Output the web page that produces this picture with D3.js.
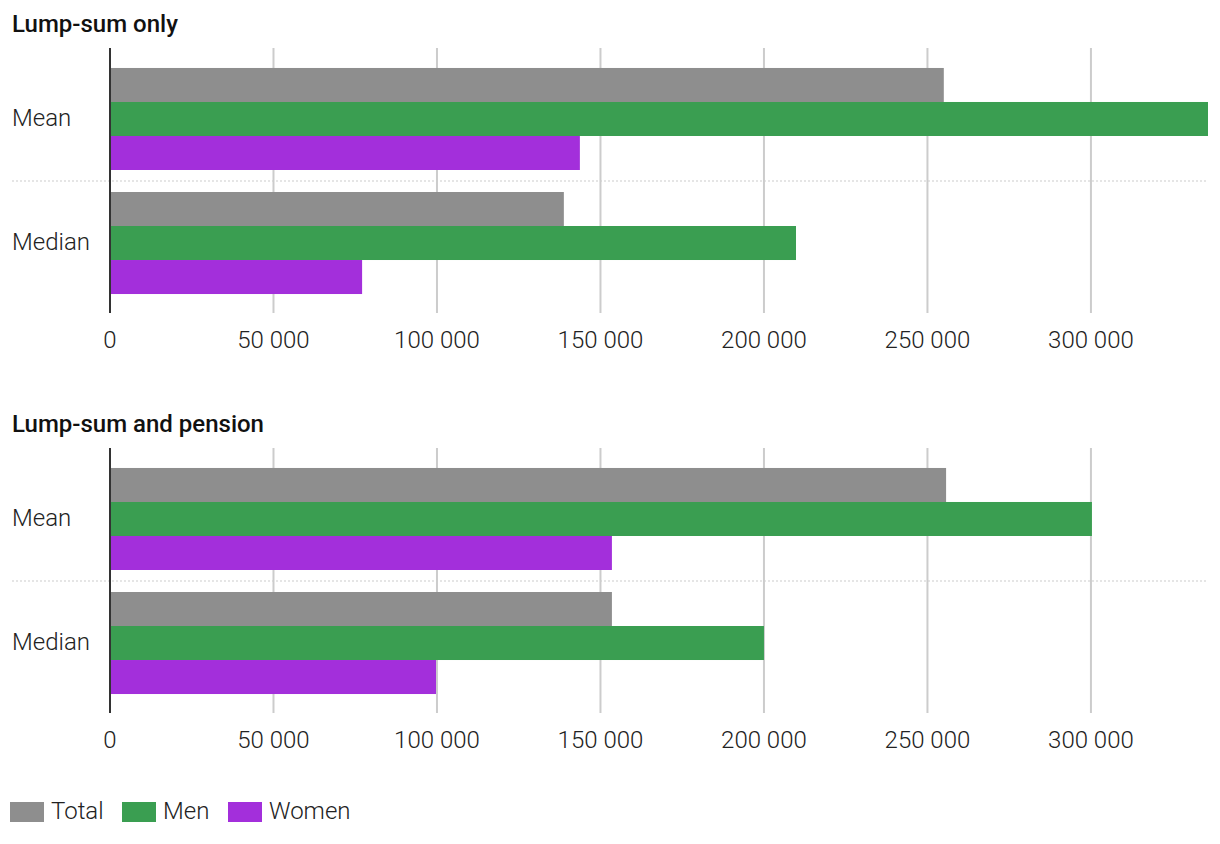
<!DOCTYPE html>
<html><head><meta charset="utf-8">
<script src="https://cdn.jsdelivr.net/npm/d3@7"></script>
<style>
body{margin:0;background:#fff;font-family:Roboto,"Noto Sans",sans-serif;}
svg text{font-family:Roboto,"Noto Sans",sans-serif;}
</style></head>
<body><svg id="c" width="1220" height="844"></svg>
<script>
const panels = ["Lump-sum only", "Lump-sum and pension"];
const categories = ["Mean", "Median"];
const seriesNames = ["Total", "Men", "Women"];
const colors = ["#8e8e8e", "#3a9e51", "#a32fdb"];
const lumpSumOnly = [[255000, 335800, 143700], [138800, 209800, 77100]];
const lumpSumPension = [[255700, 300300, 153500], [153500, 200000, 99700]];
const tickValues = [0, 50000, 100000, 150000, 200000, 250000, 300000];
const panelData = [lumpSumOnly, lumpSumPension];

const svg = d3.select("#c");
const fmt = d3.formatLocale({decimal: ",", thousands: "\u2009", grouping: [3], currency: ["", ""]}).format(",d");
const x = d3.scaleLinear().domain([0, 335800]).range([110, 1208]);

panelData.forEach((data, pi) => {
  const top = pi * 400;
  const g = svg.append("g").attr("transform", `translate(0,${top})`);
  g.append("text").attr("x", 12).attr("y", 32).attr("font-size", 24).attr("font-weight", 500)
    .attr("fill", "#111").text(panels[pi]);
  const y = d3.scaleBand().domain(categories).range([49, 313]).paddingInner(0.1774).paddingOuter(0.153);
  const y1 = d3.scaleBand().domain(seriesNames).range([0, y.bandwidth()]);
  // gridlines
  g.selectAll(".grid").data(tickValues.slice(1)).join("line")
    .attr("x1", d => x(d)).attr("x2", d => x(d)).attr("y1", 48).attr("y2", 313)
    .attr("stroke", "#cccccc").attr("stroke-width", 2);
  // separator
  const sepY = (y("Mean") + y.bandwidth() + y("Median")) / 2;
  g.append("line").attr("x1", 12).attr("x2", 1208).attr("y1", sepY).attr("y2", sepY)
    .attr("stroke", "#cccccc").attr("stroke-width", 1.2).attr("stroke-dasharray", "2,2");
  // bars
  categories.forEach((c, ci) => {
    g.selectAll(null).data(data[ci]).join("rect")
      .attr("x", x(0)).attr("y", (d, i) => y(c) + y1(seriesNames[i]))
      .attr("width", d => x(d) - x(0)).attr("height", y1.bandwidth())
      .attr("fill", (d, i) => colors[i]);
    g.append("text").attr("x", 12).attr("y", y(c) + y.bandwidth() / 2 - 1).attr("dy", "0.35em")
      .attr("font-size", 24).attr("font-weight", 300).attr("fill", "#222").text(c);
  });
  // axis line
  g.append("line").attr("x1", x(0)).attr("x2", x(0)).attr("y1", 48).attr("y2", 313)
    .attr("stroke", "#333").attr("stroke-width", 2);
  // tick labels
  g.selectAll(".tl").data(tickValues).join("text")
    .attr("x", d => x(d)).attr("y", 348).attr("text-anchor", "middle")
    .attr("font-size", 24).attr("font-weight", 300).attr("fill", "#222")
    .text(d => fmt(d).replace(/\u2009/g, " "));
});

// legend
const legX = [10, 122, 228];
seriesNames.forEach((s, i) => {
  svg.append("rect").attr("x", legX[i]).attr("y", 802).attr("width", 34).attr("height", 20).attr("fill", colors[i]);
  svg.append("text").attr("x", legX[i] + 41).attr("y", 811).attr("dy", "0.35em")
    .attr("font-size", 24).attr("font-weight", 300).attr("fill", "#222").text(s);
});
</script></body></html>
